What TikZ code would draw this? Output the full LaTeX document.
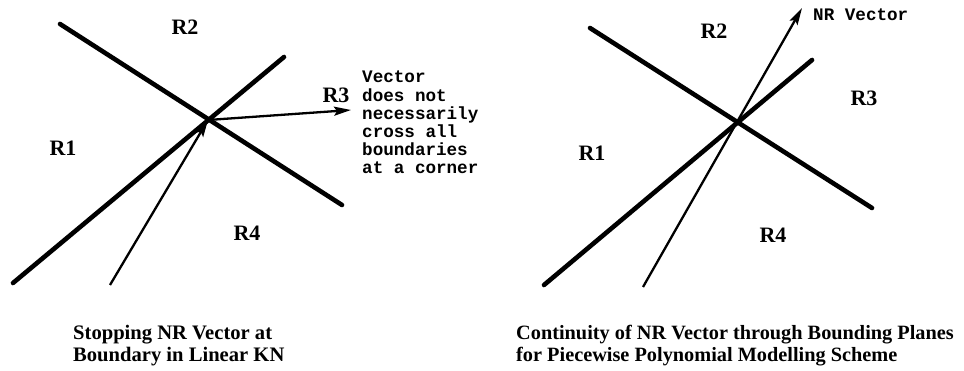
\documentclass[tikz,border=0pt]{standalone}
\usepackage{fontspec}
\setmainfont{Liberation Serif}
\newfontfamily\codefont{Liberation Mono}
\usetikzlibrary{arrows.meta}
\tikzset{
  bound/.style={line width=4.6pt, line cap=round},
  vec/.style={line width=2.3pt, -{Stealth[length=17pt,width=9pt,inset=3pt]}},
  reg/.style={font=\bfseries\fontsize{22}{24}\selectfont, inner sep=0pt},
  note/.style={font=\codefont\bfseries\fontsize{17.6}{18.2}\selectfont, inner sep=0pt, align=left},
  capt/.style={font=\bfseries\fontsize{20.6}{22}\selectfont, inner sep=0pt},
  captr/.style={font=\bfseries\fontsize{20.3}{22}\selectfont, inner sep=0pt}
}
\begin{document}
\begin{tikzpicture}[x=1pt,y=-1pt]
\useasboundingbox (0,0) rectangle (964,371);
% ---- left diagram ----
\coordinate (a1) at (60,24);
\coordinate (a2) at (342,205);
\coordinate (b1) at (13,283);
\coordinate (b2) at (284,57);
\coordinate (x1) at (208,120);
\coordinate (s1) at (110,285);
\coordinate (e1) at (351,110);
\draw[bound] (a1) -- (a2);
\draw[bound] (b1) -- (b2);
\draw[vec] (s1) -- (x1);
\draw[vec] (x1) -- (e1);
\node[reg] (r2l) at (185,27) {R2};
\node[reg] (r1l) at (63,148) {R1};
\node[reg] (r4l) at (247,233) {R4};
\node[reg] (r3l) at (336,95) {R3};
\node[note, anchor=north west] (nt) at (362,71) {Vector\\does not\\necessarily\\cross all\\boundaries\\at a corner};
\node[capt, align=left, anchor=west] (cl) at (73,346) {Stopping NR Vector at\\Boundary in Linear KN};
% ---- right diagram ----
\coordinate (c1) at (590,28);
\coordinate (c2) at (872,208);
\coordinate (d1) at (544,285);
\coordinate (d2) at (812,60);
\coordinate (s2) at (643,287);
\coordinate (e2) at (802,8);
\draw[bound] (c1) -- (c2);
\draw[bound] (d1) -- (d2);
\draw[vec] (s2) -- (e2);
\node[note, anchor=west] (nv) at (813,15) {NR Vector};
\node[reg] (r2r) at (714,31) {R2};
\node[reg] (r3r) at (864,98) {R3};
\node[reg] (r1r) at (592,153) {R1};
\node[reg] (r4r) at (773,235) {R4};
\node[captr, align=left, anchor=west] (cr) at (516,346) {Continuity of NR Vector through Bounding Planes\\for Piecewise Polynomial Modelling Scheme};
\end{tikzpicture}
\end{document}
